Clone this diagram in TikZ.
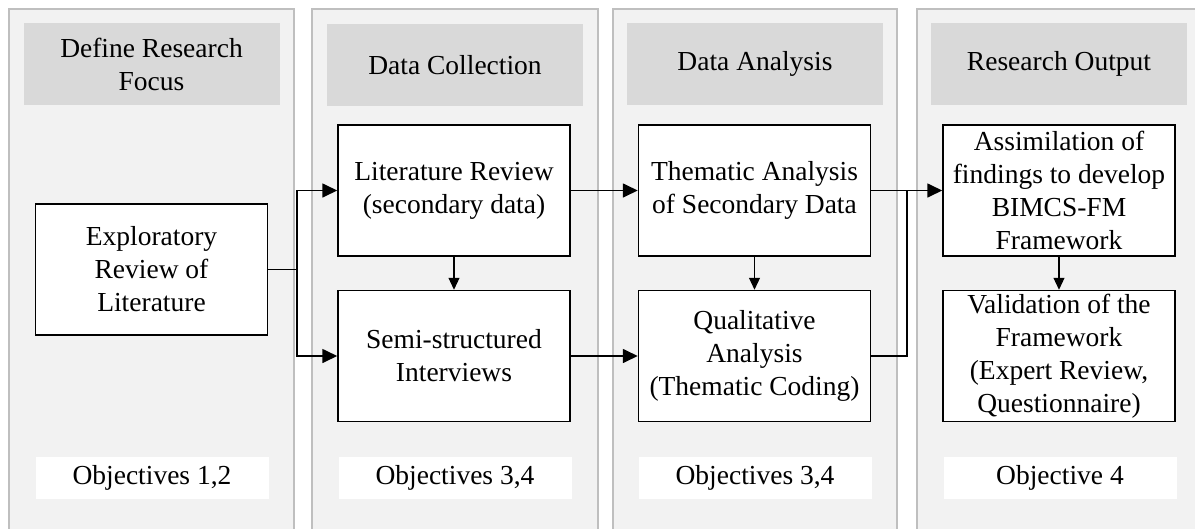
\documentclass[tikz,border=0pt]{standalone}
\usepackage{fontspec}
\setmainfont{Liberation Serif}
\usetikzlibrary{arrows.meta}

\definecolor{panelfill}{HTML}{F2F2F2}
\definecolor{panelline}{HTML}{BFBFBF}
\definecolor{headfill}{HTML}{D9D9D9}

\tikzset{
  txt/.style={font=\fontsize{27.5}{33}\selectfont, align=center, inner sep=0pt},
  panel/.style={draw=panelline, fill=panelfill, line width=1.8pt},
  header/.style={txt, fill=headfill, minimum width=256pt, minimum height=82pt},
  stepbox/.style={txt, draw=black, fill=white, line width=1.5pt,
                  minimum width=232pt, minimum height=131pt},
  objbox/.style={txt, fill=white, minimum width=233pt, minimum height=42pt},
  link/.style={line width=1.7pt, -{Triangle[length=15pt,width=14pt]}},
  plain/.style={line width=1.7pt},
  down/.style={line width=1.1pt, -{Triangle[length=12pt,width=11pt]}}
}

\begin{document}
\begin{tikzpicture}[x=1pt, y=-1pt]
  \useasboundingbox (0,0) rectangle (1195,528);
  \clip (0,0) rectangle (1195,528);

  % four phase panels, running off the bottom (and the last one off the right)
  \path[panel] (9,9)   rectangle (294,560);
  \path[panel] (312,9) rectangle (598,560);
  \path[panel] (613,9) rectangle (897,560);
  \path[panel] (917,9) rectangle (1215,560);

  % phase headings
  \node[header] (h1) at (151.5,64) {Define Research\\Focus};
  \node[header] (h2) at (455,65)   {Data Collection};
  \node[header] (h3) at (755,64)   {Data Analysis};
  \node[header] (h4) at (1059,64)  {Research Output};

  % process steps
  \node[stepbox] (expl)  at (151.5,269.5) {Exploratory\\Review of\\Literature};
  \node[stepbox] (lit)   at (454,190.5)   {Literature Review\\(secondary data)};
  \node[stepbox] (semi)  at (454,356)     {Semi-structured\\Interviews};
  \node[stepbox] (them)  at (754.5,190.5) {Thematic Analysis\\of Secondary Data};
  \node[stepbox] (qual)  at (754.5,356)   {Qualitative\\Analysis\\(Thematic Coding)};
  \node[stepbox] (assim) at (1059,190.5)  {Assimilation of\\findings to develop\\BIMCS-FM\\Framework};
  \node[stepbox] (valid) at (1059,356)    {Validation of the\\Framework\\(Expert Review,\\Questionnaire)};

  % objectives addressed in each phase
  \node[objbox] (o1) at (152,478)  {Objectives 1,2};
  \node[objbox] (o2) at (455,478)  {Objectives 3,4};
  \node[objbox] (o3) at (755,478)  {Objectives 3,4};
  \node[objbox] (o4) at (1060,478) {Objective 4};

  % branch points
  \coordinate (j1) at (297,269.5);
  \coordinate (j2) at (907,190.5);

  % connectors
  \draw[plain] (expl.east) -- (j1);
  \draw[link] (j1) |- (lit.west);
  \draw[link] (j1) |- (semi.west);
  \draw[link] (lit.east) -- (them.west);
  \draw[link] (semi.east) -- (qual.west);
  \draw[link] (them.east) -- (assim.west);
  \draw[plain] (qual.east) -| (j2);
  \draw[down] (lit.south) -- (semi.north);
  \draw[down] (them.south) -- (qual.north);
  \draw[down] (assim.south) -- (valid.north);
\end{tikzpicture}
\end{document}
